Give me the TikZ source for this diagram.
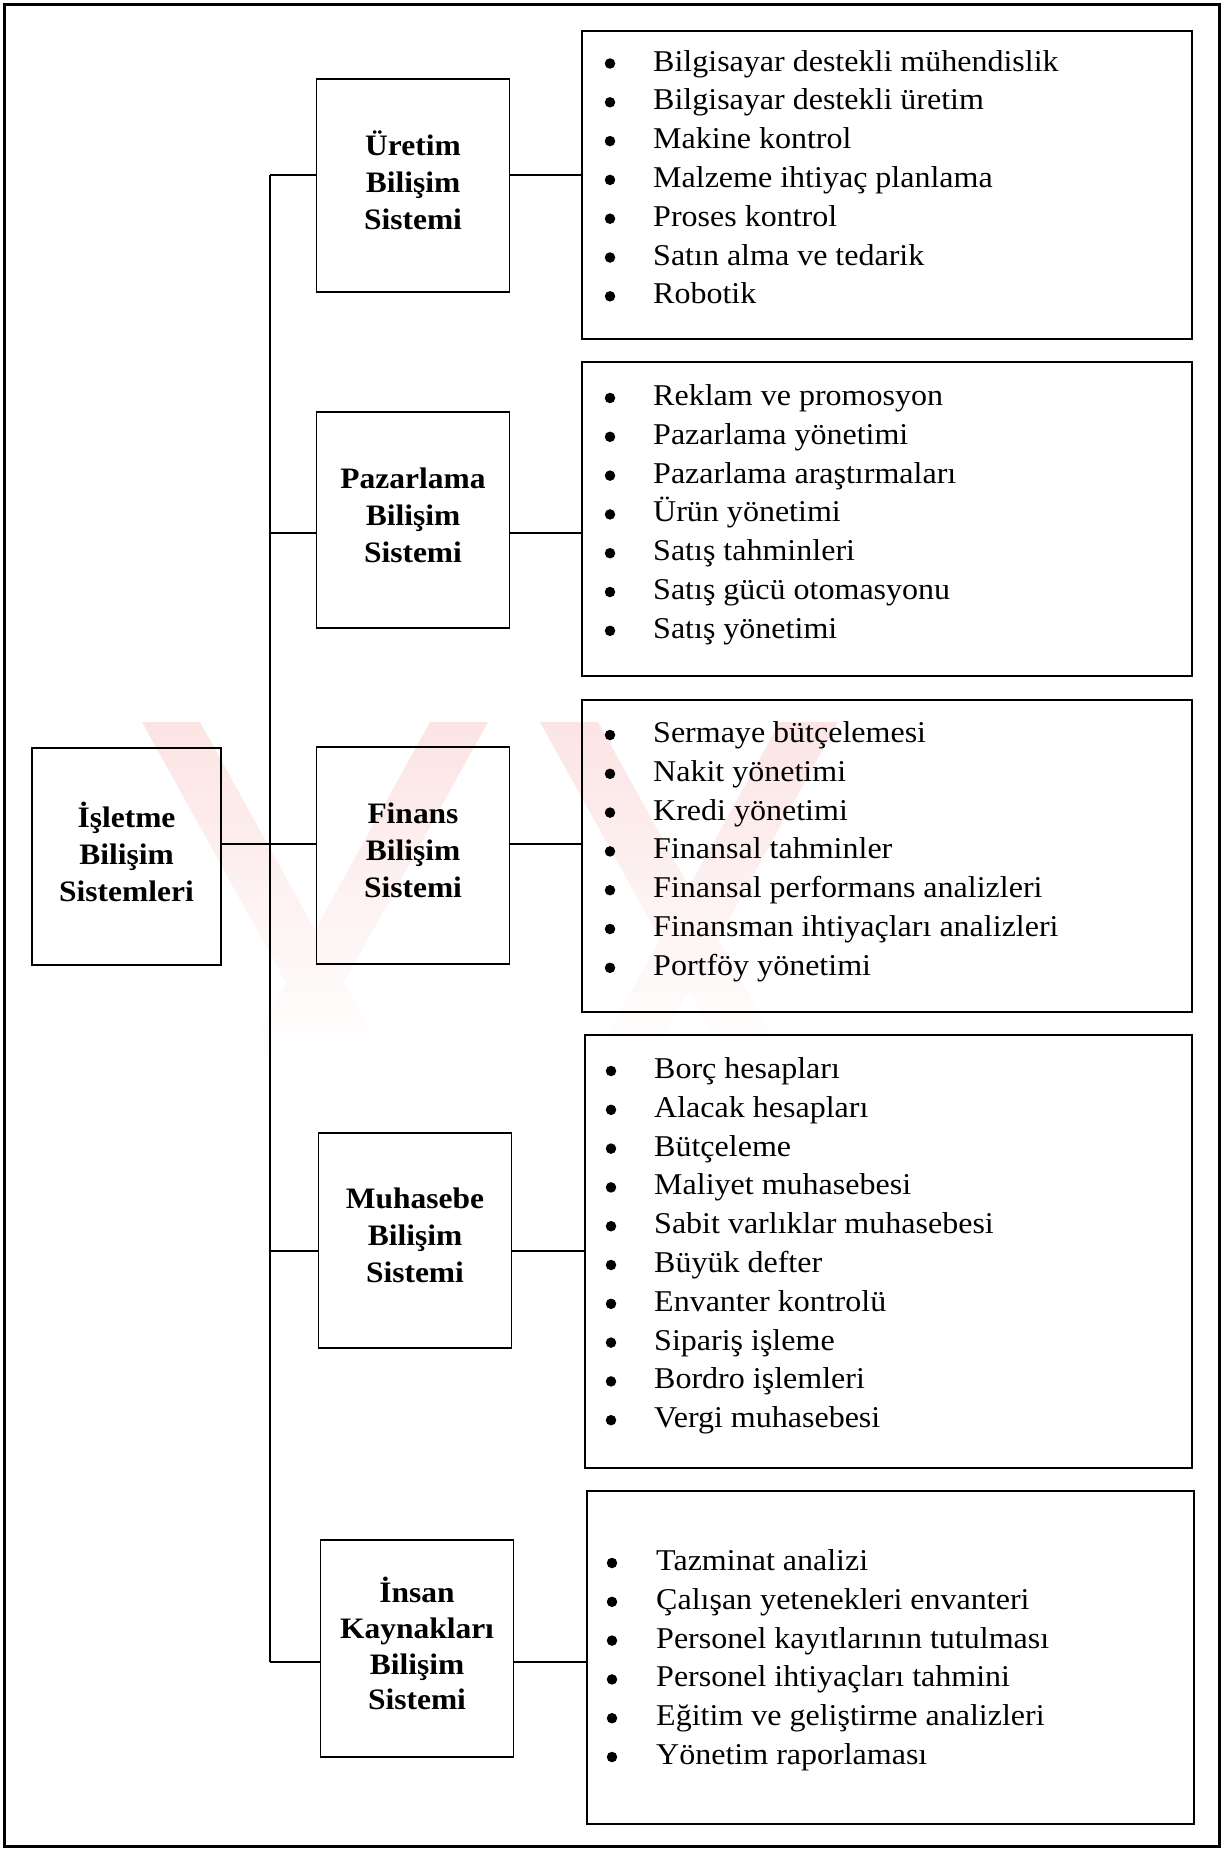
\documentclass[tikz,border=0pt]{standalone}
\usepackage{fontspec}
\setmainfont[FakeStretch=1.06]{Liberation Serif}
\definecolor{wmpink}{RGB}{252,228,228}
\begin{document}
\begin{tikzpicture}[x=1pt,y=-1pt,
  sysbox/.style={draw, line width=1.5pt, inner sep=0pt},
  syslabel/.style={inner sep=0pt, align=center, yshift=5pt,
    font=\fontsize{29.7}{37}\selectfont\bfseries},
  listbox/.style={draw, line width=1.5pt, inner sep=0pt},
  link/.style={line width=1.3pt},
  item/.style={anchor=base west, inner sep=0pt, font=\fontsize{30.2}{39}\selectfont},
  dot/.style={circle, fill, inner sep=0pt, minimum size=10.5pt}]

\useasboundingbox (0,0) rectangle (1224,1850);

% faint background mark
\shade[top color=wmpink, bottom color=white]
  (142,722) -- (200,722) -- (388,1062) -- (330,1062) -- cycle
  (430,722) -- (488,722) -- (300,1062) -- (242,1062) -- cycle
  (540,722) -- (598,722) -- (786,1062) -- (728,1062) -- cycle
  (780,722) -- (838,722) -- (650,1062) -- (592,1062) -- cycle;

% outer frame
\draw[line width=3pt] (4,4) rectangle (1219,1846);

% root
\node[sysbox, minimum width=189pt, minimum height=217pt] (root) at (126.5,856.5) {};
\node[syslabel] (root-t) at (root.center) {İşletme\\Bilişim\\Sistemleri};

% subsystems
\node[sysbox, minimum width=193pt, minimum height=213pt] (uret) at (413,185.5) {};
\node[sysbox, minimum width=193pt, minimum height=216pt] (pazar) at (413,520) {};
\node[sysbox, minimum width=193pt, minimum height=217pt] (finans) at (413,855.5) {};
\node[sysbox, minimum width=193pt, minimum height=215pt] (muh) at (415,1240.5) {};
\node[sysbox, minimum width=193pt, minimum height=217pt] (insan) at (417,1648.5) {};

\node[syslabel] (uret-t) at (uret.center) {Üretim\\Bilişim\\Sistemi};
\node[syslabel] (pazar-t) at (pazar.center) {Pazarlama\\Bilişim\\Sistemi};
\node[syslabel] (finans-t) at (finans.center) {Finans\\Bilişim\\Sistemi};
\node[syslabel] (muh-t) at (muh.center) {Muhasebe\\Bilişim\\Sistemi};
\node[syslabel, font=\fontsize{29.7}{35.8}\selectfont\bfseries] (insan-t) at (insan.center)
  {İnsan\\Kaynakları\\Bilişim\\Sistemi};

% function lists
\node[listbox, minimum width=610pt, minimum height=308pt] (l1) at (887,185) {};
\node[listbox, minimum width=610pt, minimum height=314pt] (l2) at (887,519) {};
\node[listbox, minimum width=610pt, minimum height=312pt] (l3) at (887,856) {};
\node[listbox, minimum width=607pt, minimum height=433pt] (l4) at (888.5,1251.5) {};
\node[listbox, minimum width=607pt, minimum height=333pt] (l5) at (890.5,1657.5) {};

\foreach \t [count=\i from 0] in {Bilgisayar destekli mühendislik, Bilgisayar destekli üretim,
  Makine kontrol, Malzeme ihtiyaç planlama, Proses kontrol, Satın alma ve tedarik, Robotik}{
  \node[dot] (b1-\i) at (610,63.5+38.8*\i) {};
  \node[item] (t1-\i) at (653,71+38.8*\i) {\t};
}
\foreach \t [count=\i from 0] in {Reklam ve promosyon, Pazarlama yönetimi,
  Pazarlama araştırmaları, Ürün yönetimi, Satış tahminleri, Satış gücü otomasyonu,
  Satış yönetimi}{
  \node[dot] (b2-\i) at (610,398+38.8*\i) {};
  \node[item] (t2-\i) at (653,405.5+38.8*\i) {\t};
}
\foreach \t [count=\i from 0] in {Sermaye bütçelemesi, Nakit yönetimi, Kredi yönetimi,
  Finansal tahminler, Finansal performans analizleri, Finansman ihtiyaçları analizleri,
  Portföy yönetimi}{
  \node[dot] (b3-\i) at (610,735+38.8*\i) {};
  \node[item] (t3-\i) at (653,742.5+38.8*\i) {\t};
}
\foreach \t [count=\i from 0] in {Borç hesapları, Alacak hesapları, Bütçeleme,
  Maliyet muhasebesi, Sabit varlıklar muhasebesi, Büyük defter, Envanter kontrolü,
  Sipariş işleme, Bordro işlemleri, Vergi muhasebesi}{
  \node[dot] (b4-\i) at (611,1071+38.8*\i) {};
  \node[item] (t4-\i) at (654,1078.5+38.8*\i) {\t};
}
\foreach \t [count=\i from 0] in {Tazminat analizi, Çalışan yetenekleri envanteri,
  Personel kayıtlarının tutulması, Personel ihtiyaçları tahmini,
  Eğitim ve geliştirme analizleri, Yönetim raporlaması}{
  \node[dot] (b5-\i) at (612,1563+38.8*\i) {};
  \node[item] (t5-\i) at (656,1570.5+38.8*\i) {\t};
}

% tree connectors
\coordinate (j1) at (270,175);
\coordinate (j2) at (270,533);
\coordinate (j3) at (270,844);
\coordinate (j4) at (270,1251);
\coordinate (j5) at (270,1662);

\draw[link] (j1) -- (j5);
\draw[link] (j3 -| root.east) -- (j3 -| finans.west);

\draw[link] (j1) -- (j1 -| uret.west);
\draw[link] (j2) -- (j2 -| pazar.west);
\draw[link] (j4) -- (j4 -| muh.west);
\draw[link] (j5) -- (j5 -| insan.west);

\draw[link] (j1 -| uret.east) -- (j1 -| l1.west);
\draw[link] (j2 -| pazar.east) -- (j2 -| l2.west);
\draw[link] (j3 -| finans.east) -- (j3 -| l3.west);
\draw[link] (j4 -| muh.east) -- (j4 -| l4.west);
\draw[link] (j5 -| insan.east) -- (j5 -| l5.west);

\end{tikzpicture}
\end{document}
